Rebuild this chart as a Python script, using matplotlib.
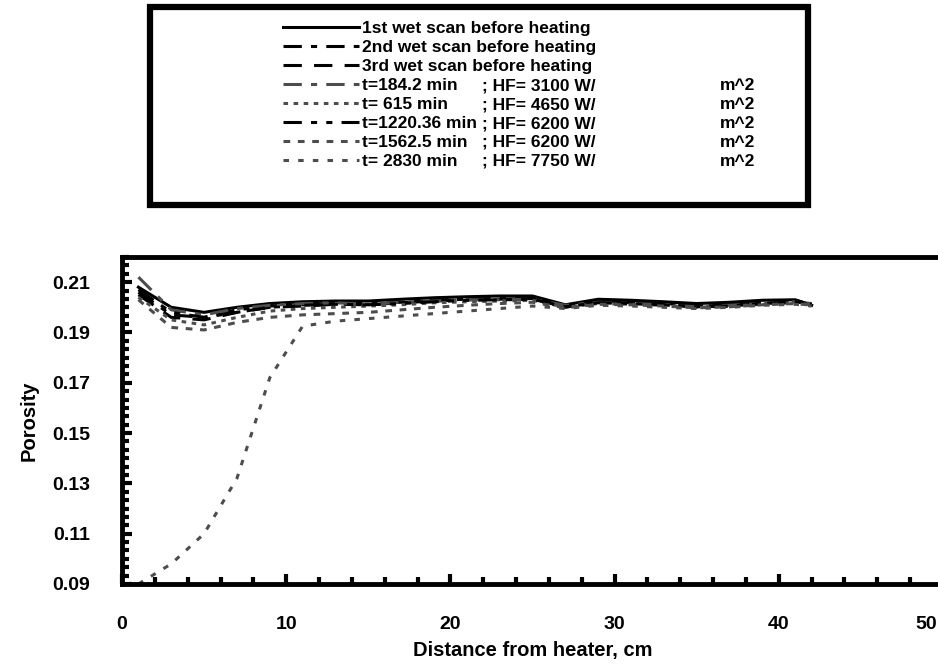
import matplotlib
matplotlib.use('Agg')
import matplotlib.pyplot as plt
from matplotlib.ticker import MultipleLocator
from matplotlib.patches import Rectangle
from matplotlib.transforms import ScaledTranslation

plt.rcParams['font.family'] = ['Liberation Sans', 'DejaVu Sans']
plt.rcParams['font.weight'] = 'bold'

# distance from heater (cm)
x = [1, 3, 5, 7, 9, 11, 13, 15, 17, 19, 21, 23, 25, 27, 29, 31, 33, 35, 37, 39, 41, 42]

wet1 = [0.208, 0.200, 0.198, 0.200, 0.2015, 0.2022, 0.2025, 0.2025, 0.2032, 0.2038, 0.2042,
        0.2045, 0.2045, 0.2010, 0.2032, 0.2028, 0.2022, 0.2015, 0.2020, 0.2028, 0.2030, 0.2008]
wet2 = [0.206, 0.197, 0.196, 0.199, 0.2005, 0.2010, 0.2015, 0.2015, 0.2020, 0.2028, 0.2032,
        0.2035, 0.2038, 0.2005, 0.2025, 0.2020, 0.2015, 0.2008, 0.2012, 0.2020, 0.2028, 0.2010]
wet3 = [0.205, 0.196, 0.195, 0.198, 0.2000, 0.2005, 0.2012, 0.2010, 0.2018, 0.2025, 0.2030,
        0.2032, 0.2035, 0.2000, 0.2022, 0.2018, 0.2012, 0.2005, 0.2010, 0.2018, 0.2025, 0.2012]
t184 = [0.212, 0.199, 0.197, 0.1995, 0.2008, 0.2015, 0.2018, 0.2012, 0.2020, 0.2025, 0.2030,
        0.2030, 0.2032, 0.2008, 0.2020, 0.2015, 0.2010, 0.2002, 0.2008, 0.2015, 0.2022, 0.2015]
t615 = [0.204, 0.195, 0.193, 0.196, 0.1985, 0.1995, 0.2000, 0.2005, 0.2010, 0.2018, 0.2022,
        0.2025, 0.2028, 0.2000, 0.2015, 0.2012, 0.2008, 0.2000, 0.2005, 0.2012, 0.2018, 0.2010]
t1220 = [0.207, 0.198, 0.196, 0.198, 0.2000, 0.2008, 0.2012, 0.2010, 0.2015, 0.2022, 0.2028,
         0.2030, 0.2032, 0.2002, 0.2018, 0.2015, 0.2010, 0.2002, 0.2005, 0.2015, 0.2022, 0.2012]
t1562 = [0.203, 0.192, 0.191, 0.194, 0.196, 0.197, 0.1975, 0.198, 0.1990, 0.2000, 0.2008,
         0.2015, 0.2020, 0.1998, 0.2012, 0.2010, 0.2005, 0.1998, 0.2002, 0.2010, 0.2015, 0.2008]
t2830 = [0.090, 0.098, 0.110, 0.132, 0.172, 0.1925, 0.1945, 0.1955, 0.1965, 0.1975, 0.1985,
         0.1995, 0.2005, 0.1995, 0.2008, 0.2005, 0.2000, 0.1995, 0.2000, 0.2008, 0.2012, 0.2005]

wet_labels = ['1st wet scan before heating', '2nd wet scan before heating',
              '3rd wet scan before heating']
times = ['184.2', ' 615', '1220.36', '1562.5', ' 2830']
heat_flux = [3100, 4650, 6200, 6200, 7750]

x_ticks = [0, 10, 20, 30, 40, 50]
y_ticks = [0.09, 0.11, 0.13, 0.15, 0.17, 0.19, 0.21]

series = [wet1, wet2, wet3, t184, t615, t1220, t1562, t2830]
labels = wet_labels + ['t=' + t + ' min' for t in times]

dark = '#4d4d4d'
styles = [
    dict(color='black', ls='-'),
    dict(color='black', ls=(0, (6, 3, 2, 3))),
    dict(color='black', ls=(0, (6, 4))),
    dict(color=dark, ls=(0, (6, 3, 2, 3))),
    dict(color=dark, ls=(0, (1.5, 1.8))),
    dict(color='black', ls=(0, (6, 3, 2, 3, 2, 3))),
    dict(color=dark, ls=(0, (2.2, 2.5))),
    dict(color=dark, ls=(0, (1.8, 3))),
]

fig = plt.figure(figsize=(9.38, 6.72), dpi=100)
ax = fig.add_axes([122 / 938, 88 / 672, 821 / 938, 327 / 672])

for y, lab, st in zip(series, labels, styles):
    ax.plot(x, y, lw=2.2, label=lab, **st)

ax.set_xlim(0, 50)
ax.set_ylim(0.09, 0.22)
ax.set_xticks(x_ticks)
ax.set_xticklabels([str(v) for v in x_ticks])
ax.xaxis.set_minor_locator(MultipleLocator(2))
ax.set_yticks(y_ticks)
ax.set_yticklabels(['%.2f' % v for v in y_ticks])
ax.yaxis.set_minor_locator(MultipleLocator(0.02 / 6))

for sp in ax.spines.values():
    sp.set_linewidth(3.5)
ax.tick_params(which='both', direction='in', top=False, right=False, width=3,
               labelsize=14, pad=23)
ax.tick_params(which='major', length=7)
ax.tick_params(which='minor', length=5)
for t in ax.get_xticklabels() + ax.get_yticklabels():
    t.set_fontweight('bold')
# last label sits at the figure edge, nudge it inside
last = ax.get_xticklabels()[-1]
last.set_horizontalalignment('right')
last.set_transform(last.get_transform() + ScaledTranslation(-0.06, 0, fig.dpi_scale_trans))

ax.set_xlabel('Distance from heater, cm', fontsize=14.5, fontweight='bold', labelpad=6)
ax.set_ylabel('Porosity', fontsize=14.5, fontweight='bold', labelpad=10)

leg = ax.legend(loc='upper left', bbox_to_anchor=(283 / 938, 1 - 21 / 672),
                bbox_transform=fig.transFigure, frameon=False, handlelength=4.4,
                handletextpad=0.15, labelspacing=0.22, borderpad=0, borderaxespad=0,
                prop=dict(weight='bold', size=12.5))

fig.patches.append(Rectangle((150 / 938, 1 - 205 / 672), 658 / 938, 198 / 672,
                             transform=fig.transFigure, fill=False, lw=4.5,
                             ec='black'))

fig.canvas.draw()
texts = leg.get_texts()
for i, hf in enumerate(heat_flux):
    bb = texts[3 + i].get_window_extent()
    yc = (bb.y0 + bb.y1) / 2 / fig.bbox.height
    fig.text(482 / 938, yc, '; HF= %d W/' % hf, fontsize=12.5, fontweight='bold',
             va='center')
    fig.text(720 / 938, yc, 'm^2', fontsize=12.5, fontweight='bold', va='center')

fig.savefig('out.png', dpi=100)
